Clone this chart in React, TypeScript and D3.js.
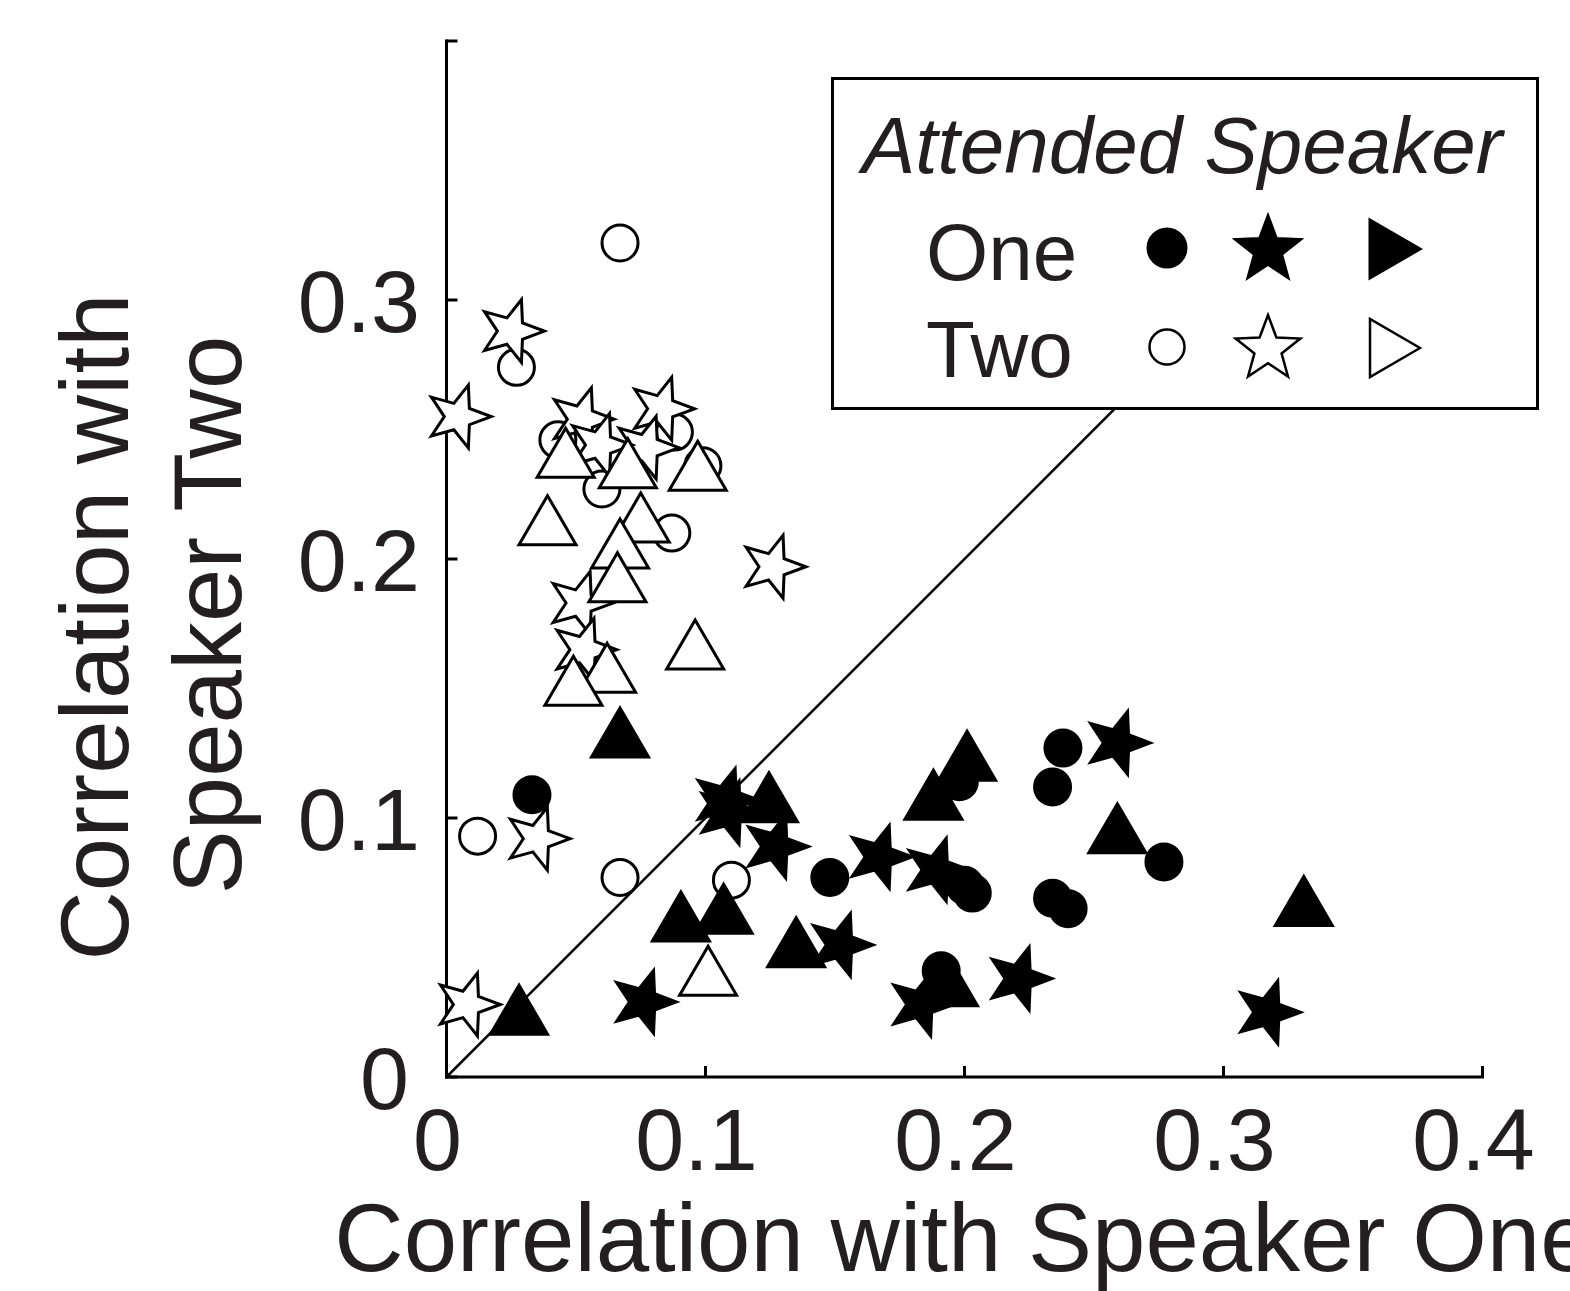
import React from "react";
import * as d3 from "d3";

// Correlation of each trial's reconstruction with speaker one (x) and speaker two (y)
// Attended speaker one: filled markers; attended speaker two: open markers
const oneCircles: [number, number][] = [
  [0.033, 0.109], [0.148, 0.077], [0.198, 0.114], [0.238, 0.127], [0.234, 0.112],
  [0.277, 0.083], [0.2, 0.074], [0.203, 0.071], [0.234, 0.069], [0.24, 0.065], [0.191, 0.041],
];
const twoCircles: [number, number][] = [
  [0.067, 0.322], [0.027, 0.274], [0.043, 0.246], [0.06, 0.227], [0.088, 0.249],
  [0.099, 0.236], [0.087, 0.21], [0.012, 0.093], [0.067, 0.077], [0.11, 0.076],
];
const oneStars: [number, number][] = [
  [0.1075, 0.107], [0.109, 0.102], [0.127, 0.089], [0.167, 0.085], [0.189, 0.08],
  [0.259, 0.129], [0.152, 0.051], [0.076, 0.029], [0.183, 0.028], [0.221, 0.038], [0.317, 0.025],
];
const twoStars: [number, number][] = [
  [0.025, 0.288], [0.0045, 0.255], [0.052, 0.254], [0.083, 0.258], [0.077, 0.243],
  [0.059, 0.244], [0.0515, 0.183], [0.053, 0.165], [0.126, 0.197], [0.035, 0.092], [0.008, 0.028],
];
const oneTriangles: [number, number][] = [
  [0.067, 0.133], [0.028, 0.026], [0.1245, 0.108], [0.0905, 0.062], [0.107, 0.065],
  [0.135, 0.052], [0.201, 0.124], [0.188, 0.109], [0.259, 0.096], [0.331, 0.068], [0.194, 0.037],
];
const twoTriangles: [number, number][] = [
  [0.046, 0.241], [0.07, 0.237], [0.097, 0.236], [0.039, 0.215], [0.075, 0.216],
  [0.067, 0.206], [0.066, 0.193], [0.096, 0.167], [0.062, 0.158], [0.049, 0.153], [0.101, 0.041],
];

const xTicks = [0, 0.1, 0.2, 0.3, 0.4];
const xTickLabels = ["0", "0.1", "0.2", "0.3", "0.4"];
const yTicks = [0, 0.1, 0.2, 0.3, 0.4];
const yTickLabels = ["0", "0.1", "0.2", "0.3", ""];
const legendRows = ["One", "Two"];
// the unity line runs from the origin up to where the legend box covers it
const identityExtent = [0, 0.3];

const FONT = "'Liberation Sans', Arial, Helvetica, sans-serif";
const TEXT = "#231f20";

const xScale = d3.scaleLinear().domain([0, 0.4]).range([446.5, 1482.5]);
const yScale = d3.scaleLinear().domain([0, 0.4]).range([1077, 41]);

// five-pointed star; rot = angle (radians) of the first tip, 0 = pointing right
function starPath(cx: number, cy: number, R: number, ratio: number, rot: number) {
  const pts: [number, number][] = [];
  for (let i = 0; i < 10; i++) {
    const r = i % 2 === 0 ? R : R * ratio;
    const a = rot + (i * Math.PI) / 5;
    pts.push([cx + r * Math.cos(a), cy + r * Math.sin(a)]);
  }
  return d3.line()(pts) + "Z";
}
function triUp(cx: number, cy: number, w: number, h: number) {
  return d3.line()([
    [cx, cy - h / 2],
    [cx + w / 2, cy + h / 2],
    [cx - w / 2, cy + h / 2],
  ]) + "Z";
}
function triRight(cx: number, cy: number, w: number, h: number) {
  return d3.line()([
    [cx + w / 2, cy],
    [cx - w / 2, cy + h / 2],
    [cx - w / 2, cy - h / 2],
  ]) + "Z";
}

const MK = { stroke: "#000", strokeWidth: 3, strokeLinejoin: "miter" as const, strokeMiterlimit: 10 };

function Circles({ data, filled }: { data: [number, number][]; filled: boolean }) {
  return (
    <g>
      {data.map((d, i) => (
        <circle key={i} cx={xScale(d[0])} cy={yScale(d[1])} r={18} fill={filled ? "#000" : "#fff"} {...MK} />
      ))}
    </g>
  );
}
function Stars({ data, filled }: { data: [number, number][]; filled: boolean }) {
  return (
    <g>
      {data.map((d, i) => (
        <path key={i} d={starPath(xScale(d[0]), yScale(d[1]), 33, 0.42, 0)} fill={filled ? "#000" : "#fff"} {...MK} />
      ))}
    </g>
  );
}
function Triangles({ data, filled }: { data: [number, number][]; filled: boolean }) {
  return (
    <g>
      {data.map((d, i) => (
        <path key={i} d={triUp(xScale(d[0]), yScale(d[1]), 57, 49)} fill={filled ? "#000" : "#fff"} {...MK} />
      ))}
    </g>
  );
}

export default function App() {
  const x0 = xScale(0);
  const y0 = yScale(0);
  return (
    <svg
      width={1570}
      height={1291}
      style={{ position: "absolute", left: 0, top: 0, background: "#fff" }}
      fontFamily={FONT}
    >
      <rect x={0} y={0} width={1570} height={1291} fill="#fff" />

      {/* identity line */}
      <line
        x1={xScale(identityExtent[0])}
        y1={yScale(identityExtent[0])}
        x2={xScale(identityExtent[1])}
        y2={yScale(identityExtent[1])}
        stroke="#000"
        strokeWidth={2.5}
      />

      {/* axes */}
      <line x1={x0} y1={y0} x2={xScale(0.4)} y2={y0} stroke="#000" strokeWidth={3} strokeLinecap="square" />
      <line x1={x0} y1={y0} x2={x0} y2={yScale(0.4)} stroke="#000" strokeWidth={3} strokeLinecap="square" />
      {xTicks.map((t, i) => (
        <g key={"xt" + i}>
          <line x1={xScale(t)} x2={xScale(t)} y1={y0} y2={y0 - 11} stroke="#000" strokeWidth={3} />
          <text x={xScale(t) - 9} y={1170} fontSize={88} textAnchor="middle" fill={TEXT}>
            {xTickLabels[i]}
          </text>
        </g>
      ))}
      {yTicks.map((t, i) => (
        <g key={"yt" + i}>
          <line x1={x0} x2={x0 + 11} y1={yScale(t)} y2={yScale(t)} stroke="#000" strokeWidth={3} />
          <text x={t === 0 ? 409 : 420} y={yScale(t) + 32} fontSize={88} textAnchor="end" fill={TEXT}>
            {yTickLabels[i]}
          </text>
        </g>
      ))}

      {/* axis titles */}
      <text x={964} y={1271} fontSize={96} textAnchor="middle" fill={TEXT}>
        Correlation with Speaker One
      </text>
      <g transform="translate(128,627) rotate(-90)">
        <text x={0} y={0} fontSize={96} textAnchor="middle" fill={TEXT}>Correlation with</text>
        <text x={12} y={113} fontSize={96} textAnchor="middle" fill={TEXT}>Speaker Two</text>
      </g>

      {/* markers */}
      <Circles data={oneCircles} filled={true} />
      <Circles data={twoCircles} filled={false} />
      <Stars data={oneStars} filled={true} />
      <Stars data={twoStars} filled={false} />
      <Triangles data={oneTriangles} filled={true} />
      <Triangles data={twoTriangles} filled={false} />

      {/* legend */}
      <rect x={832.5} y={78.5} width={705} height={330} fill="#fff" stroke="#000" strokeWidth={3} />
      <text x={862} y={173} fontSize={80} fontStyle="italic" fill={TEXT}>Attended Speaker</text>
      {legendRows.map((label, i) => {
        const cy = 248 + i * 99;
        const filled = i === 0;
        const fill = filled ? "#000" : "#fff";
        const sw = filled ? 3 : 2.5;
        return (
          <g key={label}>
            <text x={926} y={280 + i * 97} fontSize={80} fill={TEXT}>{label}</text>
            <circle cx={1167} cy={cy} r={filled ? 19 : 17.5} fill={fill} stroke="#000" strokeWidth={sw} />
            <path d={starPath(1268, cy + 2, 34, 0.42, -Math.PI / 2)} fill={fill} stroke="#000" strokeWidth={sw} strokeMiterlimit={10} />
            <path d={triRight(1395, cy + 1, 50, 58)} fill={fill} stroke="#000" strokeWidth={sw} strokeMiterlimit={10} />
          </g>
        );
      })}
    </svg>
  );
}
